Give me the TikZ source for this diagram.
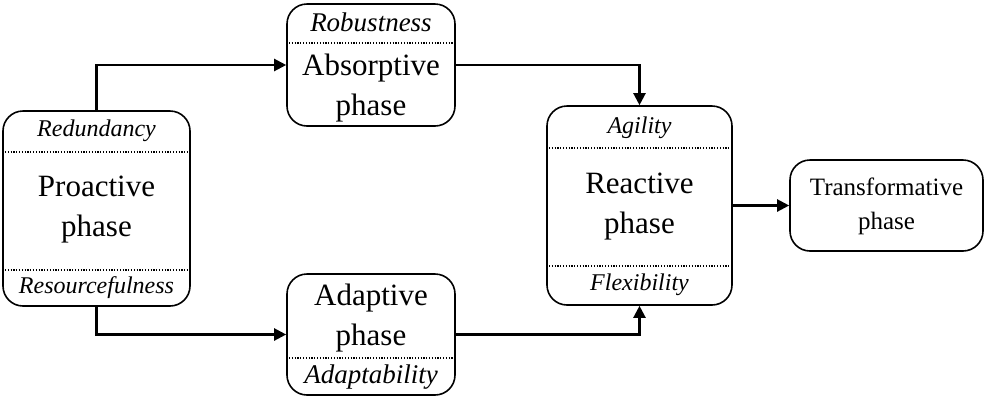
\documentclass[tikz,border=0pt]{standalone}
\usepackage{fontspec}
\setmainfont{Liberation Serif}
\usetikzlibrary{arrows.meta}

\begin{document}
\begin{tikzpicture}[x=0.5pt, y=-0.5pt,
    phase/.style={draw, line width=0.8pt, rounded corners=10pt, inner sep=0pt},
    phasetext/.style={align=center, font=\fontsize{15.5}{20}\selectfont},
    smalltext/.style={align=center, font=\fontsize{12.5}{17}\selectfont},
    trait/.style={font=\fontsize{12}{14}\selectfont\itshape},
    bigtrait/.style={font=\fontsize{13.5}{15}\selectfont\itshape},
    divider/.style={line width=0.6pt, dash pattern=on 0.6pt off 0.8pt},
    flow/.style={-{Triangle[length=6pt,width=6pt]}, line width=1.1pt}]
    \useasboundingbox (0,0) rectangle (987,398);
    % boxes
    \node[phase, minimum width=93.5pt, minimum height=97.5pt] (proactive) at (96.5,208.5) {};
    \node[phase, minimum width=84pt, minimum height=61pt] (absorptive) at (371,65) {};
    \node[phase, minimum width=84pt, minimum height=60.5pt] (adaptive) at (371,334.5) {};
    \node[phase, minimum width=92.5pt, minimum height=99.5pt] (reactive) at (639.5,205.5) {};
    \node[phase, minimum width=96.5pt, minimum height=45.5pt] (transform) at (886.5,205.5) {};
    % dividers
    \draw[divider] (proactive.west |- 0,152) -- (proactive.east |- 0,152);
    \draw[divider] (proactive.west |- 0,270) -- (proactive.east |- 0,270);
    \draw[divider] (absorptive.west |- 0,43) -- (absorptive.east |- 0,43);
    \draw[divider] (adaptive.west |- 0,358) -- (adaptive.east |- 0,358);
    \draw[divider] (reactive.west |- 0,148) -- (reactive.east |- 0,148);
    \draw[divider] (reactive.west |- 0,266) -- (reactive.east |- 0,266);
    % texts
    \node[trait] (redundancy) at (96.5,131) {Redundancy};
    \node[phasetext] (proactive-t) at (96.5,210) {Proactive\\phase};
    \node[trait] (resource) at (96.5,288) {Resourcefulness};
    \node[bigtrait] (robust) at (371,22) {Robustness};
    \node[phasetext] (absorptive-t) at (371,88) {Absorptive\\phase};
    \node[phasetext] (adaptive-t) at (371,318) {Adaptive\\phase};
    \node[bigtrait] (adaptab) at (371,377) {Adaptability};
    \node[trait] (agility) at (639.5,128) {Agility};
    \node[phasetext] (reactive-t) at (639.5,207) {Reactive\\phase};
    \node[trait] (flexib) at (639.5,285) {Flexibility};
    \node[smalltext] (transform-t) at (886.5,206) {Transformative\\phase};
    % connectors
    \draw[flow] (proactive.north) |- (absorptive.west);
    \draw[flow] (absorptive.east) -| (reactive.north);
    \draw[flow] (proactive.south) |- (adaptive.west);
    \draw[flow] (adaptive.east) -| (reactive.south);
    \draw[flow] (reactive.east) -- (transform.west);
\end{tikzpicture}
\end{document}
